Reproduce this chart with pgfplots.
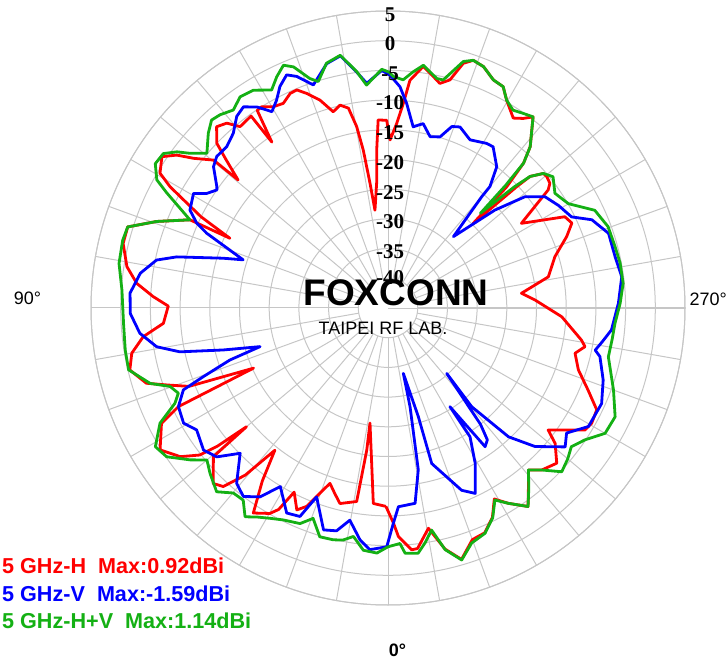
\documentclass[border=0pt]{standalone}
\usepackage{fontspec}
\setmainfont{Liberation Sans}
\newfontfamily\tnr{Liberation Serif}
\usepackage{pgfplots}
\pgfplotsset{compat=1.18}
\usepgfplotslibrary{polar}

\definecolor{gridgray}{RGB}{198,198,198}
\definecolor{cR}{RGB}{255,0,0}
\definecolor{cB}{RGB}{0,0,255}
\definecolor{cG}{RGB}{20,176,20}

\begin{document}
\begin{tikzpicture}
\path (0pt,0pt) rectangle (727pt,661pt);

% spokes every 10 deg, from the -40 ring to the rim
\foreach \a in {0,10,...,350}
  \draw[gridgray, line width=1pt, shift={(388pt,353pt)}] (\a:29.7pt) -- (\a:297pt);

\begin{polaraxis}[
    at={(388pt,353pt)}, anchor=center,
    width=594pt, height=594pt, scale only axis,
    ymin=0, ymax=50,
    xtick=\empty,
    ytick={5,10,...,50}, yticklabels={},
    ymajorgrids,
    major tick length=0pt,
    grid style={draw=gridgray, line width=1pt},
    axis line style={draw=gridgray, line width=1pt},
    clip=false,
    % chart angle: 0 at bottom, clockwise; radius: dBi, centre = -45
    x filter/.expression={270-x},
    y filter/.expression={y+45},
    every axis plot/.append style={no marks, line width=2.8pt, line join=round},
]

% 5 GHz-H
\addplot[cR] coordinates {
(0.6,-11.6) (4.3,-12.0) (6,-18.7) (8.9,-25.4) (8.5,-20.8) (9.2,-12.0) (13.8,-11.1)
(16,-12.5) (18.3,-13.9) (19.6,-12.5) (22.3,-8.9) (24.3,-7.7) (27,-10.2) (28.5,-6.4)
(29.9,-5.1) (33.3,-3.7) (36,-9) (38.5,-14.4) (40.5,-8) (42.7,-4.1) (44.9,-3.3)
(49.6,-6.4) (50,-13.9) (51,-8) (52,-4.8) (54.4,-2.0) (58.1,0.2) (63,-2.2) (64.8,-6.0)
(65.9,-20.2) (68.5,-9) (70.8,-5.6) (72.7,-2.4) (76.5,-0.3) (80,-1.2) (83.3,-3.5)
(86.1,-7.1) (90.5,-8.0) (92.8,-5.4) (95.6,-2.5) (99,-0.5) (103.7,0.9) (107.3,0.9)
(110.5,-3.4) (114,-8.5) (113.8,-15.9) (116,-10) (118.2,-5.3) (119.1,-3.0) (120.6,-0.4)
(123.8,0.8) (125.9,-1.1) (127.6,-3.7) (130.3,-6.5) (130.5,-11.8) (132.5,-8) (133.9,-5.0)
(136.6,-3.0) (138.9,-3.7) (140.8,-5.6) (144.5,-5.3) (145,-10.9) (146.5,-5.1) (147.9,-5.0)
(150.3,-6.0) (152.9,-6.3) (155.5,-5.3) (157.3,-5.2) (159.3,-6.4) (161.9,-8.2) (164.4,-10.7)
(166.7,-9.9) (168.8,-10.7) (170.2,-14) (171.1,-18.1) (171.8,-23.8) (172.4,-28.4)
(175,-23.4) (176,-18) (177,-13.3) (179.6,-13.4) (180.7,-16.7) (182.7,-13.9) (184.3,-10.4)
(185.5,-6.5) (188.3,-3.9) (191.1,-5.3) (193,-6.2) (195.2,-5.2) (197.1,-1.9) (199,-0.9)
(201.6,-1.3) (204.8,-2.7) (207.5,-3.0) (209.7,-4.7) (213.4,-6.7) (215.5,-5.8) (217.2,-4.6)
(221.4,-8.8) (223.1,-11.6) (224.4,-16.4) (225.2,-24.8) (226.7,-15.2) (227.2,-12.4)
(229.1,-10.4) (230.4,-10.3) (232.4,-10.6) (233.6,-11.5) (237.6,-18.4) (242.7,-11.5)
(245.2,-10.9) (248.2,-12.6) (252.9,-15.6) (259,-17.5) (263.7,-22.4) (266.9,-20.2)
(272.9,-15.7) (279.4,-12.0) (281.1,-11.2) (283.6,-12.6) (288,-11.3) (292.3,-8.6)
(296,-5.9) (299.5,-5.6) (301.8,-6.0) (304.6,-8.8) (307.3,-11.1) (309,-8.8) (312.6,-6.4)
(316.5,-7.4) (319.1,-8.9) (322,-6.6) (324.8,-4.1) (328.4,-6.4) (330.9,-8.2) (333.5,-5.6)
(336.7,-3.8) (340,-3.5) (343.7,-0.9) (346.7,-3.3) (349.6,-7.3) (353,-4.2) (354.4,-4.1)
(357.4,-6.5) (358.5,-8.7) (360.6,-11.6)
};

% 5 GHz-V
\addplot[cB] coordinates {
(0.3,-4.8) (4.3,-4.2) (6.9,-5.7) (10.2,-8.7) (13,-6.5) (16.2,-6.1) (20.7,-11.0)
(22.9,-6.9) (26.3,-6.5) (31.1,-9.9) (34.1,-6.6) (37.5,-5.0) (40.8,-6.0) (45.5,-10.1)
(49,-6.8) (52.4,-5.8) (57.5,-6.8) (60.6,-5.5) (64.8,-6.0) (68.2,-7.9) (69.6,-11.8)
(71.8,-17.0) (73.2,-22.5) (75.7,-16.4) (78.1,-9.2) (80.5,-5.5) (84.2,-3.0) (88.8,-1.6)
(93.3,-1.5) (98,-2.9) (101.7,-5.2) (103.6,-8.4) (106.8,-16.0) (108.4,-19.3) (112.4,-12.0)
(113.9,-9.8) (116.3,-7.8) (120.5,-7.0) (122.3,-8.9) (124.6,-10.0) (125.3,-9.7) (129,-7.2)
(131.5,-6.5) (135,-6.6) (138.5,-5.7) (141.7,-3.9) (144.3,-3.3) (146.9,-4.6) (148.5,-5.9)
(149.4,-6.6) (151.8,-5.3) (154,-3.5) (156.5,-2.2) (158.5,-3.1) (161.5,-5.4) (165.9,-2.6)
(169.3,-1.8) (172.5,-5.0) (174.6,-7.0) (178.5,-5.0) (180.5,-5.8) (183.1,-7.7) (185.2,-10.4)
(187.9,-14.2) (190.8,-13.4) (193.8,-15.3) (196.9,-14.9) (199.4,-12.6) (201.7,-12.2)
(206,-13.5) (210.9,-12.7) (213.1,-12.6) (217.6,-15.0) (220,-18.3) (220.1,-20.5)
(222.5,-28.7) (227.5,-20.6) (230.9,-15.3) (234.7,-12.6) (239,-11.5) (243.6,-10.5)
(246.6,-7.6) (251.3,-5.8) (257.3,-5.8) (262.4,-5.3) (268.8,-6.2) (275.6,-7.2) (279,-8.5)
(281.5,-9.4) (282.9,-8.4) (288.5,-6.8) (294.1,-5.6) (300.6,-5.8) (305,-8.3) (308.1,-7.1)
(313.3,-11.0) (316.9,-15.3) (319.7,-23.2) (318.1,-30.2) (321.5,-20) (323,-17.2) (325,-16.5)
(327.9,-25.4) (327.5,-19.3) (330.7,-15.0) (334.8,-10.5) (338,-11.9) (344.3,-17.8)
(344.4,-26) (346.8,-33.7) (347.4,-28) (349.4,-17.3) (352.1,-11.8) (357,-11.5) (358.6,-8.7)
(360.3,-4.8)
};

% 5 GHz-H+V
\addplot[cG] coordinates {
(0,-4.8) (2.6,-3.7) (5.8,-4.0) (8.6,-6.1) (11,-5.2) (13.3,-4.9) (16.6,-4.8) (19.6,-7.4)
(22.2,-5.8) (26.3,-5.2) (29.3,-4.4) (32,-3.5) (34.4,-2.4) (37,-4.5) (39.9,-4.4) (43,-2.7)
(47.1,-4.1) (50,-5.2) (52.5,-3.0) (56.1,-0.1) (59.2,0.6) (63.2,-2.0) (65.9,-5.7) (67.9,-6.9)
(70.2,-6.0) (72.4,-3.0) (76.6,-0.1) (80.9,-0.2) (86.7,-0.4) (93.9,-0.1) (99.4,0.9)
(104.3,1.1) (107.3,0.9) (110.5,-3.4) (114,-8.5) (117.5,-3.0) (119,-0.5) (121.8,1.1)
(124.5,0.9) (126.5,-0.8) (128,-2.7) (130.5,-4.9) (134.2,-2.8) (136.8,-1.6) (139,-1.9)
(142,-2.7) (145,-1.6) (148.3,-1.9) (151.9,-3.4) (154.3,-1.8) (156.7,-0.5) (158.6,-1.4)
(161.2,-4.2) (162.9,-5.1) (165.9,-2.5) (169.3,-1.7) (172.5,-4.9) (174.5,-7.3) (178.5,-4.8)
(180.3,-5.3) (181.3,-6.0) (183.8,-6.5) (186.1,-5.0) (188.3,-3.7) (192,-5.5) (193.6,-5.5)
(197,-1.6) (199,-0.9) (201.6,-1.3) (204.8,-2.7) (207.5,-3.0) (209.7,-4.7) (212.3,-5.6)
(214.8,-5.1) (217.2,-4.6) (221.4,-8.8) (223.1,-11.6) (223.8,-16.4) (224.3,-22.7)
(226.2,-15.5) (227.2,-12.4) (229.1,-10.4) (231.5,-9.5) (235.5,-10.9) (238.4,-10.3)
(240,-9.9) (244.7,-6.5) (249.7,-5.5) (254.9,-5.4) (259,-5.2) (264,-5.2) (268.8,-5.9)
(273.9,-6.7) (278,-6.9) (282.5,-7.0) (286,-6.0) (290,-4.6) (295.6,-2.6) (300,-2.8)
(303.8,-5.1) (307.1,-6.3) (310,-5.5) (313.3,-4.8) (316.5,-7.4) (319.1,-8.9) (322,-6.5)
(324.8,-4.1) (328.4,-6.4) (330.9,-8.0) (333.5,-5.5) (336.7,-3.7) (340.4,-3.0) (343.7,-0.8)
(346.7,-3.2) (348.9,-6.9) (351,-5.0) (353,-3.4) (356,-3.6) (357.1,-5.3) (360,-4.8)
};
\end{polaraxis}

% watermark
\node[font=\fontsize{37}{37}\selectfont\bfseries] at (396pt,368pt) {FOXCONN};
\node[font=\fontsize{18}{18}\selectfont] at (383pt,333pt) {TAIPEI RF LAB.};

% radial scale along the top spoke
\foreach \v/\yy in {5/646,0/617.3,-5/587.6,-10/557.9,-15/528.2,-20/498.5,-25/468.8,-30/439.1,-35/409.4,-40/383}
  \node[font=\tnr\fontsize{21}{21}\selectfont\bfseries, inner sep=0pt] at (390pt,\yy pt) {\v};

% angle labels
\node[font=\fontsize{18}{18}\selectfont, inner sep=0pt] at (27.5pt,363pt) {90°};
\node[font=\fontsize{18}{18}\selectfont, inner sep=0pt, anchor=east] at (727pt,362pt) {270°};
\node[font=\fontsize{18}{18}\selectfont\bfseries, inner sep=0pt] at (397.5pt,11pt) {0°};

% legend
\node[font=\fontsize{21.6}{21.6}\selectfont\bfseries, text=cR, anchor=base west, inner sep=0pt] at (2pt,88pt) {5 GHz-H\ \ Max:0.92dBi};
\node[font=\fontsize{21.6}{21.6}\selectfont\bfseries, text=cB, anchor=base west, inner sep=0pt] at (2pt,60pt) {5 GHz-V\ \ Max:-1.59dBi};
\node[font=\fontsize{21.6}{21.6}\selectfont\bfseries, text=cG, anchor=base west, inner sep=0pt] at (2pt,33pt) {5 GHz-H+V\ \ Max:1.14dBi};
\end{tikzpicture}
\end{document}
